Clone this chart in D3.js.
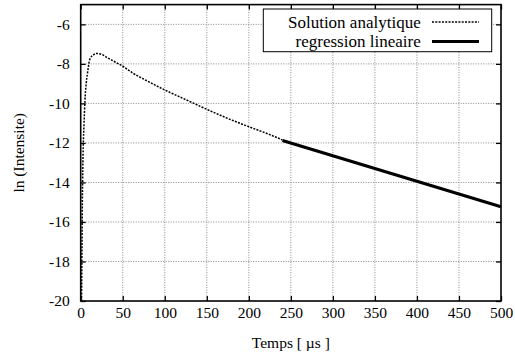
<!DOCTYPE html>
<html>
<head>
<meta charset="utf-8">
<script src="https://cdn.jsdelivr.net/npm/d3@7"></script>
<style>
  html, body { margin: 0; padding: 0; background: #fff; }
</style>
</head>
<body>
<svg id="chart" width="515" height="358"></svg>
<script>
// ---- data ----
const analyticT = [1, 1.5, 2, 2.5, 3, 4, 5, 6.5, 8, 11, 15, 19, 25, 33, 40, 50, 62.5, 75, 100, 125, 150, 175, 200, 225, 240];
const analyticY = [-20, -17.5, -15, -13.3, -12.2, -11.0, -9.9, -9.0, -8.5, -7.75, -7.55, -7.47, -7.52, -7.72, -7.88, -8.12, -8.48, -8.77, -9.32, -9.81, -10.3, -10.76, -11.18, -11.58, -11.85];
const regressionT = [240, 500];
const regressionY = [-11.88, -15.23];
const xTicks = [0, 50, 100, 150, 200, 250, 300, 350, 400, 450, 500];
const yTicks = [-20, -18, -16, -14, -12, -10, -8, -6];
const seriesNames = ["Solution analytique", "regression lineaire"];
const xTitle = "Temps [ \u00b5s ]";
const yTitle = "ln (Intensite)";

// ---- layout ----
const FONT = "'Liberation Serif', 'Times New Roman', Times, 'DejaVu Serif', serif";
const pL = 80.7, pR = 501, pT = 4.6, pB = 301;
const svg = d3.select("#chart").style("font-family", FONT);

const x = d3.scaleLinear().domain([0, 500]).range([pL, pR]);
const y = d3.scaleLinear().domain([-20, -5]).range([pB, pT]);

// grid
const grid = svg.append("g");
grid.selectAll("line.gx").data(xTicks.slice(1, -1)).enter().append("line")
  .attr("x1", d => x(d)).attr("x2", d => x(d)).attr("y1", pT).attr("y2", pB)
  .attr("stroke", "#888").attr("stroke-width", 1).attr("stroke-dasharray", "1,1.5");
grid.selectAll("line.gy").data(yTicks.slice(1)).enter().append("line")
  .attr("x1", pL).attr("x2", pR).attr("y1", d => y(d)).attr("y2", d => y(d))
  .attr("stroke", "#888").attr("stroke-width", 1).attr("stroke-dasharray", "1,1.5");

// axes (ticks inward on all four sides)
const fs = 15.5;
const axB = svg.append("g").attr("transform", `translate(0,${pB})`)
  .call(d3.axisBottom(x).tickValues(xTicks).tickSize(-5).tickPadding(6).tickFormat(d3.format("d")));
const axT = svg.append("g").attr("transform", `translate(0,${pT})`)
  .call(d3.axisTop(x).tickValues(xTicks).tickSize(-5).tickFormat(""));
const axL = svg.append("g").attr("transform", `translate(${pL},0)`)
  .call(d3.axisLeft(y).tickValues(yTicks).tickSize(-5).tickPadding(11).tickFormat(d => String(d)));
const axR = svg.append("g").attr("transform", `translate(${pR},0)`)
  .call(d3.axisRight(y).tickValues(yTicks).tickSize(-5).tickFormat(""));
[axB, axT, axL, axR].forEach(a => {
  a.attr("font-family", null).attr("font-size", null);
  a.select(".domain").remove();
  a.selectAll(".tick line").attr("stroke", "#000").attr("stroke-width", 1.3);
  a.selectAll("text").style("font-family", FONT).attr("font-size", fs).attr("fill", "#000");
});

// frame
svg.append("rect").attr("x", pL).attr("y", pT).attr("width", pR - pL).attr("height", pB - pT)
  .attr("fill", "none").attr("stroke", "#000").attr("stroke-width", 1.6);

// series
const line = d3.line().x(d => x(d[0])).y(d => y(d[1])).curve(d3.curveMonotoneX);
svg.append("clipPath").attr("id", "clip").append("rect")
  .attr("x", pL).attr("y", pT).attr("width", pR - pL).attr("height", pB - pT);
const analytic = analyticT.map((t, i) => [t, analyticY[i]]);
const regression = regressionT.map((t, i) => [t, regressionY[i]]);
svg.append("path").datum(analytic).attr("d", line).attr("clip-path", "url(#clip)")
  .attr("fill", "none").attr("stroke", "#000").attr("stroke-width", 1.5).attr("stroke-dasharray", "2,1.3");
svg.append("path").datum(regression).attr("d", d3.line().x(d => x(d[0])).y(d => y(d[1])))
  .attr("fill", "none").attr("stroke", "#000").attr("stroke-width", 3.2);

// legend
const lg = svg.append("g");
lg.append("rect").attr("x", 263.3).attr("y", 9).attr("width", 228.4).attr("height", 42.7)
  .attr("fill", "#fff").attr("stroke", "#000").attr("stroke-width", 1);
const styles = [{w: 1.5, dash: "2,1.3"}, {w: 3.2, dash: null}];
seriesNames.forEach((n, i) => {
  const cy = 22 + i * 19.5;
  lg.append("text").attr("x", 420.7).attr("y", cy + 5.5).attr("text-anchor", "end")
    .style("font-family", FONT).attr("font-size", 17).text(n);
  const l = lg.append("line").attr("x1", 432).attr("x2", 479).attr("y1", cy).attr("y2", cy)
    .attr("stroke", "#000").attr("stroke-width", styles[i].w);
  if (styles[i].dash) l.attr("stroke-dasharray", styles[i].dash);
});

// axis titles
svg.append("text").attr("x", (pL + pR) / 2).attr("y", 348).attr("text-anchor", "middle")
  .style("font-family", FONT).attr("font-size", 15.5).text(xTitle);
svg.append("text").attr("transform", `translate(24,${(pT + pB) / 2}) rotate(-90)`)
  .style("font-family", FONT).attr("text-anchor", "middle").attr("font-size", 15.5).text(yTitle);
</script>
</body>
</html>
